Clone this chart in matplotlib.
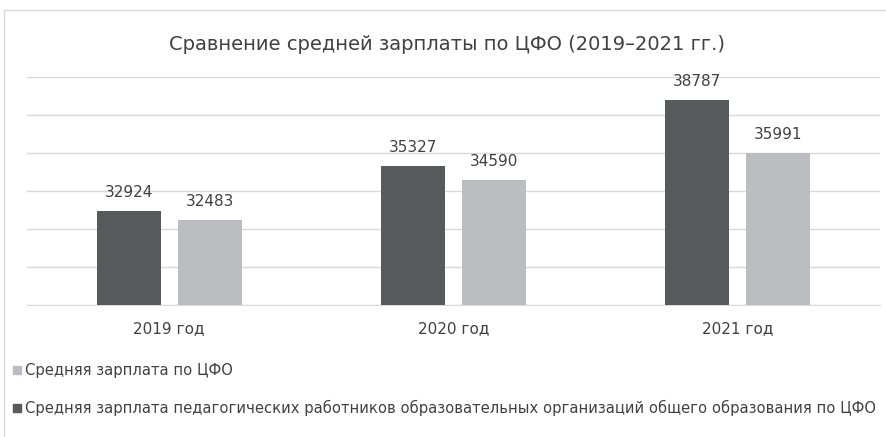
import matplotlib
matplotlib.use("Agg")
import matplotlib.pyplot as plt
from matplotlib.patches import Rectangle
import numpy as np

categories = ["2019 год", "2020 год", "2021 год"]
teachers = [32924, 35327, 38787]
average = [32483, 34590, 35991]
label_teachers = "Средняя зарплата педагогических работников образовательных организаций общего образования по ЦФО"
label_average = "Средняя зарплата по ЦФО"
title = "Сравнение средней зарплаты по ЦФО (2019–2021 гг.)"

plt.rcParams['font.family'] = ['DejaVu Sans']

W, H = 887, 437
fig = plt.figure(figsize=(W / 100, H / 100), dpi=100)
fig.patch.set_facecolor("white")
fig.add_artist(Rectangle((4 / W, -0.05), 1.1, 1 - 10 / H + 0.05, transform=fig.transFigure,
                         fill=False, edgecolor="#d9d9d9", linewidth=1))

ax = fig.add_axes([27 / W, 1 - 305 / H, (880 - 27) / W, (305 - 77) / H])
x = np.arange(len(categories))
w = 0.225
off = 0.1425
dark = "#58595b"
light = "#bcbdc0"
b1 = ax.bar(x - off, teachers, w, color=dark, label=label_teachers, zorder=3)
b2 = ax.bar(x + off, average, w, color=light, label=label_average, zorder=3)
ax.set_xlim(-0.5, 2.5)
ax.set_ylim(28000, 40000)
ax.set_yticks(np.arange(28000, 40001, 2000))
ax.yaxis.grid(True, color="#d9d9d9", linewidth=1)
ax.set_axisbelow(True)
for s in ["top", "right", "left"]:
    ax.spines[s].set_visible(False)
ax.spines["bottom"].set_color("#d9d9d9")
ax.tick_params(axis="y", left=False, labelleft=False)
ax.tick_params(axis="x", bottom=False, pad=8, labelsize=11, labelcolor="#404040")
ax.set_xticks(x)
ax.set_xticklabels(categories)
for bars, vals in ((b1, teachers), (b2, average)):
    for r, v in zip(bars, vals):
        ax.annotate(f"{v}", (r.get_x() + r.get_width() / 2, v), xytext=(0, 8),
                    textcoords="offset points", ha="center", va="bottom",
                    fontsize=11, color="#404040")

fig.text(447 / W, 1 - 44 / H, title, ha="center", va="center", fontsize=14, color="#404040")

for yy, col, lab in ((370, light, label_average), (408, dark, label_teachers)):
    fig.add_artist(Rectangle((13 / W, 1 - (yy + 4) / H), 8 / W, 8 / H, transform=fig.transFigure,
                             color=col))
    fig.text(25 / W, 1 - yy / H, lab, ha="left", va="center", fontsize=10.6, color="#404040")

fig.savefig("out.png", dpi=100)
